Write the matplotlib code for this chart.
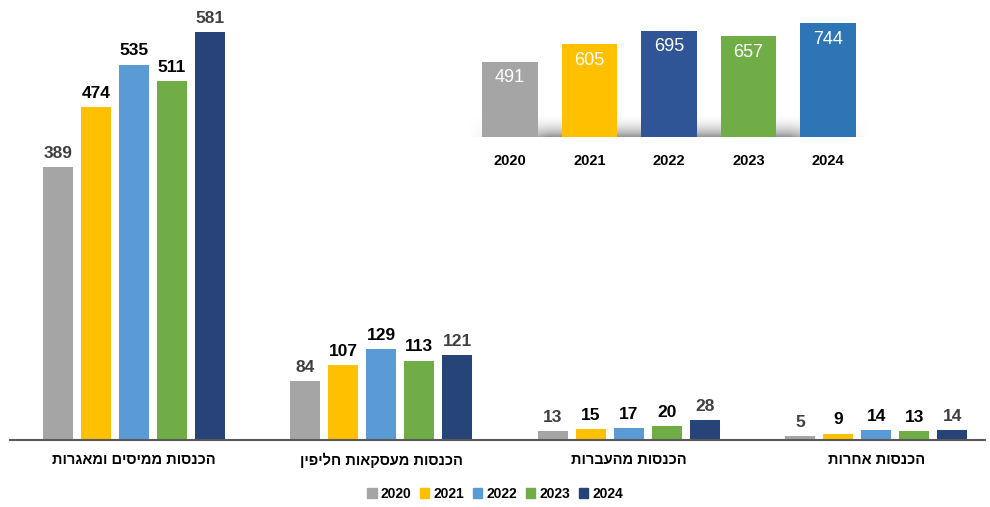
import numpy as np
import matplotlib.pyplot as plt
from matplotlib.patches import Patch

plt.rcParams["font.family"] = ["Liberation Sans", "DejaVu Sans"]

years = ["2020", "2021", "2022", "2023", "2024"]
categories = ["הכנסות ממיסים ומאגרות", "הכנסות מעסקאות חליפין",
              "הכנסות מהעברות", "הכנסות אחרות"]
values = {
    "2020": [389, 84, 13, 5],
    "2021": [474, 107, 15, 9],
    "2022": [535, 129, 17, 14],
    "2023": [511, 113, 20, 13],
    "2024": [581, 121, 28, 14],
}
totals = [491, 605, 695, 657, 744]

colors = ["#a5a5a5", "#ffc000", "#5b9bd5", "#70ad47", "#264478"]
label_colors = ["#404040", "black", "black", "black", "#404040"]
inset_colors = ["#a5a5a5", "#ffc000", "#2f5597", "#70ad47", "#2e75b6"]


def rtl(s):
    # matplotlib has no bidi support, so flip hebrew by hand
    return s[::-1]


W, H = 990, 507
fig = plt.figure(figsize=(W / 100, H / 100), dpi=100)

# main grouped bars
ax = fig.add_axes([10 / W, (H - 440) / H, 975 / W, 440 / H])
x = np.arange(len(categories))
width = 0.121
step = 0.1535
for i, yr in enumerate(years):
    pos = x + (i - 2) * step
    bars = ax.bar(pos, values[yr], width, color=colors[i], zorder=2)
    for b, v in zip(bars, values[yr]):
        ax.text(b.get_x() + b.get_width() / 2, v + 9, str(v), ha="center", va="bottom",
                fontsize=12.5, fontweight="bold", color=label_colors[i])

ax.set_xlim(-0.5, 3.44)
ax.set_ylim(0, 627)
for s in ["top", "right", "left"]:
    ax.spines[s].set_visible(False)
ax.spines["bottom"].set_color("#595959")
ax.spines["bottom"].set_linewidth(1.5)
ax.set_yticks([])
ax.set_xticks(x)
ax.set_xticklabels([rtl(c) for c in categories], fontsize=10.5, fontweight="bold")
ax.tick_params(axis="x", length=0, pad=9)

handles = [Patch(color=c) for c in colors]
fig.legend(handles, years, loc="center", bbox_to_anchor=(0.5, (H - 494) / H), ncol=5,
           frameon=False, handlelength=0.7, handleheight=0.7, handletextpad=0.3,
           columnspacing=0.6, prop={"weight": "bold", "size": 10})

# inset with yearly totals
ax2 = fig.add_axes([468 / W, (H - 137) / H, 402 / W, 122 / H])
ax2.set_xlim(-0.53, 4.53)
ax2.set_ylim(0, 797)
xi = np.arange(len(years))

# soft grey floor shadow behind bars
grad = np.linspace(0, 1, 50).reshape(-1, 1) ** 1.3
fade = np.minimum(1, np.minimum(np.linspace(0, 5, 200), np.linspace(5, 0, 200))).reshape(1, -1)
shade = grad * fade
ax2.imshow(shade, extent=(-0.53, 4.53, 0, 140), origin="upper", aspect="auto",
           cmap="Greys", vmin=0, vmax=2.0, zorder=1)

ibars = ax2.bar(xi, totals, 0.7, color=inset_colors, zorder=2)
for b, v in zip(ibars, totals):
    ax2.text(b.get_x() + b.get_width() / 2, v - 105, str(v), ha="center", va="center",
             fontsize=13, color="white", zorder=3)
ax2.set_xticks(xi)
ax2.set_xticklabels(years, fontsize=10.5, fontweight="bold")
ax2.tick_params(axis="x", length=0, pad=12)
ax2.set_yticks([])
for s in ax2.spines.values():
    s.set_visible(False)

fig.savefig("out.png", dpi=100)
